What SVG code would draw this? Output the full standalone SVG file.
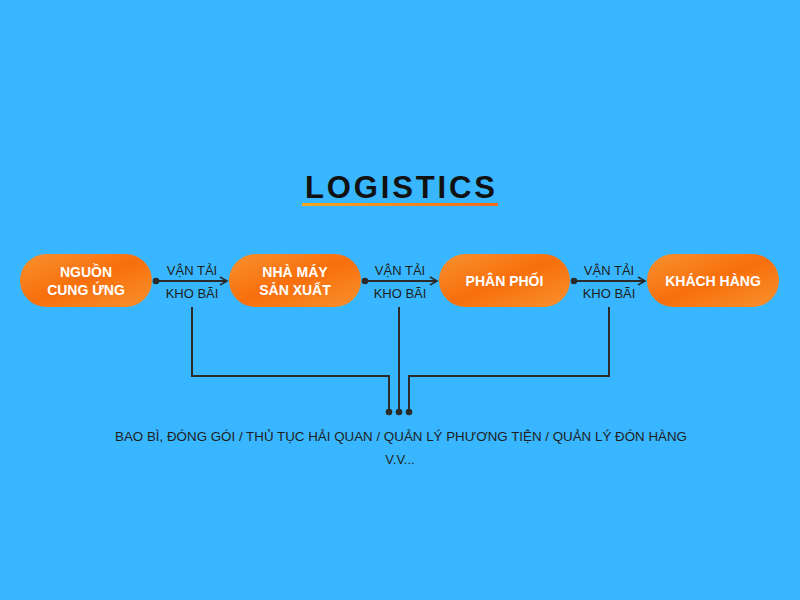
<svg xmlns="http://www.w3.org/2000/svg" width="800" height="600" viewBox="0 0 800 600">
<defs>
<linearGradient id="og" x1="0" y1="0" x2="1" y2="1"><stop offset="0" stop-color="#F7922E"/><stop offset="0.5" stop-color="#F86F0C"/><stop offset="1" stop-color="#F7922E"/></linearGradient>
<linearGradient id="ul" x1="0" y1="0" x2="1" y2="0"><stop offset="0" stop-color="#F5A623"/><stop offset="1" stop-color="#F26A1B"/></linearGradient>
<marker id="ah" markerWidth="10" markerHeight="10" refX="8" refY="5" orient="auto" markerUnits="userSpaceOnUse"><path d="M1,1 L8,5 L1,9" fill="none" stroke="#2b2b2b" stroke-width="1.6"/></marker>
<marker id="dot" markerWidth="8" markerHeight="8" refX="4" refY="4" markerUnits="userSpaceOnUse"><circle cx="4" cy="4" r="3.3" fill="#2b2b2b"/></marker>
</defs>
<style>
.n{fill:url(#og)}
.nt{font-family:"Liberation Sans",Arial,sans-serif;font-weight:bold;font-size:14px;fill:#fff;text-anchor:middle}
.lb{font-family:"Liberation Sans",Arial,sans-serif;font-size:13px;fill:#1e1e1e;text-anchor:middle}
.c{fill:none;stroke:#2b2b2b;stroke-width:2}
</style>
<rect width="800" height="600" fill="#38B6FF"/>
<g id="title">
<text x="400" y="198" font-family="'Liberation Sans',Arial,sans-serif" font-size="31" font-weight="bold" fill="#111" text-anchor="middle" textLength="190" lengthAdjust="spacing">LOGISTICS</text>
<rect x="302" y="203" width="196" height="3" fill="url(#ul)"/>
</g>
<g id="n1"><rect class="n" x="20" y="254" width="132" height="53" rx="26.5"/><text class="nt" x="86" y="277">NGUỒN</text><text class="nt" x="86" y="295">CUNG ỨNG</text></g>
<g id="n2"><rect class="n" x="229" y="254" width="132" height="53" rx="26.5"/><text class="nt" x="295" y="277">NHÀ MÁY</text><text class="nt" x="295" y="295">SẢN XUẤT</text></g>
<g id="n3"><rect class="n" x="439" y="254" width="131" height="53" rx="26.5"/><text class="nt" x="504.5" y="286">PHÂN PHỐI</text></g>
<g id="n4"><rect class="n" x="647" y="254" width="132" height="53" rx="26.5"/><text class="nt" x="713" y="286">KHÁCH HÀNG</text></g>
<g id="connectors">
<path class="c" d="M156,281 H227" marker-start="url(#dot)" marker-end="url(#ah)"/>
<path class="c" d="M365,281 H437" marker-start="url(#dot)" marker-end="url(#ah)"/>
<path class="c" d="M574,281 H645" marker-start="url(#dot)" marker-end="url(#ah)"/>
<path class="c" d="M192,307 V376 H389 V412" marker-end="url(#dot)"/>
<path class="c" d="M399,307 V412" marker-end="url(#dot)"/>
<path class="c" d="M609,307 V376 H409 V412" marker-end="url(#dot)"/>
</g>
<g id="labels">
<text class="lb" x="192" y="275">VẬN TẢI</text><text class="lb" x="192" y="298">KHO BÃI</text>
<text class="lb" x="400" y="275">VẬN TẢI</text><text class="lb" x="400" y="298">KHO BÃI</text>
<text class="lb" x="609" y="275">VẬN TẢI</text><text class="lb" x="609" y="298">KHO BÃI</text>
<text class="lb" x="401" y="441" textLength="572" lengthAdjust="spacingAndGlyphs">BAO BÌ, ĐÓNG GÓI / THỦ TỤC HẢI QUAN / QUẢN LÝ PHƯƠNG TIỆN / QUẢN LÝ ĐÓN HÀNG</text>
<text class="lb" x="400" y="464">V.V...</text>
</g>
</svg>
